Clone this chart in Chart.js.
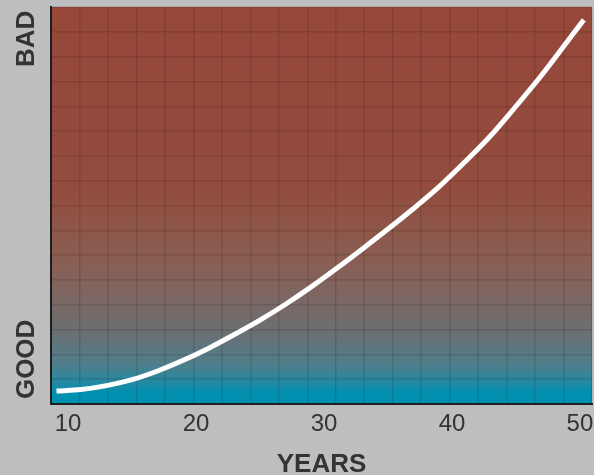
<!DOCTYPE html>
<html lang="en">
<head>
<meta charset="UTF-8">
<title>Good / Bad over the years</title>
<script src="https://cdn.jsdelivr.net/npm/chart.js"></script>
<style>
  body { margin: 0; background: #bdbec0; }
  canvas { display: block; }
</style>
</head>
<body>
<canvas id="myChart" width="594" height="475"></canvas>
<script>
// curve: x in years, y in grid rows counted from the bottom (0..16)
const years  = [9.1, 11, 13, 15, 17, 19, 21, 23, 25, 27, 29, 31, 33, 35, 37, 39, 41, 43, 45, 47, 49, 50, 50.3];
const values = [0.52, 0.58, 0.74, 0.98, 1.33, 1.76, 2.25, 2.80, 3.38, 4.02, 4.72, 5.47, 6.25, 7.05, 7.88, 8.76, 9.75, 10.80, 12.00, 13.25, 14.60, 15.28, 15.48];
const yearTicks = [10, 20, 30, 40, 50];
const ratingLabels = ['GOOD', 'BAD'];
const ratingTicks = [3.4, 15.85]; // upper end of each (rotated) word
const gridCols = 19;
const gridRows = 16;

const FONT = "'Liberation Sans', Arial, sans-serif";

// background: grey page + red-to-teal plot area
const backdrop = {
    id: 'backdrop',
    beforeDraw(chart) {
        const { ctx, chartArea: a } = chart;
        ctx.save();
        ctx.fillStyle = '#bdbec0';
        ctx.fillRect(0, 0, chart.width, chart.height);
        const g = ctx.createLinearGradient(0, a.top, 0, a.bottom);
        g.addColorStop(0, '#96473a');
        g.addColorStop(0.45, '#934c3e');
        g.addColorStop(0.62, '#8a5c50');
        g.addColorStop(0.72, '#7f6660');
        g.addColorStop(0.82, '#6a6f72');
        g.addColorStop(0.90, '#4f7e8b');
        g.addColorStop(0.95, '#1f8aa5');
        g.addColorStop(0.97, '#0390b0');
        g.addColorStop(1, '#0090b0');
        ctx.fillStyle = g;
        ctx.fillRect(a.left, a.top, a.right - a.left, a.bottom - a.top);
        ctx.restore();
    }
};

// hidden axes that only draw the square grid
function gridAxis(axis, position, count) {
    return {
        type: 'linear',
        axis: axis,
        position: position,
        min: 0,
        max: count,
        afterBuildTicks: (s) => {
            const t = [];
            for (let i = 0; i <= count; i++) t.push({ value: i });
            s.ticks = t;
        },
        ticks: { display: false },
        grid: { color: 'rgba(30,10,0,0.13)', lineWidth: 1.5, drawTicks: false },
        border: { display: false }
    };
}

const ctx = document.getElementById('myChart').getContext('2d');
const chart = new Chart(ctx, {
    type: 'line',
    data: {
        datasets: [{
            data: years.map((x, i) => ({ x: x, y: values[i] })),
            borderColor: '#ffffff',
            borderWidth: 5,
            pointRadius: 0,
            cubicInterpolationMode: 'monotone',
            xAxisID: 'x',
            yAxisID: 'y'
        }]
    },
    options: {
        responsive: false,
        animation: false,
        devicePixelRatio: 1,
        layout: { padding: { top: 7, right: 2, left: 0, bottom: 0 } },
        plugins: { legend: { display: false }, tooltip: { enabled: false } },
        scales: {
            x: {
                type: 'linear',
                position: 'bottom',
                min: 8.67,
                max: 50.94,
                afterBuildTicks: (s) => { s.ticks = yearTicks.map(v => ({ value: v })); },
                afterFit: (s) => { s.paddingLeft = 0; s.paddingRight = 0; s.height = 71; },
                ticks: {
                    color: '#333333',
                    padding: 8,
                    font: { family: FONT, size: 24, lineHeight: 1 }
                },
                grid: { display: false, drawTicks: false },
                border: { display: true, color: '#1e1e1e', width: 2 },
                title: {
                    display: true,
                    text: 'YEARS',
                    color: '#333333',
                    padding: { top: 0, bottom: 0 },
                    font: { family: FONT, size: 26, weight: 'bold', lineHeight: 0.75 }
                }
            },
            y: {
                type: 'linear',
                position: 'left',
                min: 0,
                max: 16,
                afterBuildTicks: (s) => { s.ticks = ratingTicks.map(v => ({ value: v })); },
                afterFit: (s) => { s.width = 51; s.paddingTop = 0; s.paddingBottom = 0; },
                ticks: {
                    color: '#333333',
                    padding: 24,
                    minRotation: 90,
                    maxRotation: 90,
                    font: { family: FONT, size: 26, weight: 'bold', lineHeight: 1 },
                    callback: (v, i) => ratingLabels[i]
                },
                grid: { display: false, drawTicks: false },
                border: { display: true, color: '#1e1e1e', width: 2 }
            },
            gx: gridAxis('x', 'top', gridCols),
            gy: gridAxis('y', 'right', gridRows)
        }
    },
    plugins: [backdrop]
});
</script>
</body>
</html>
